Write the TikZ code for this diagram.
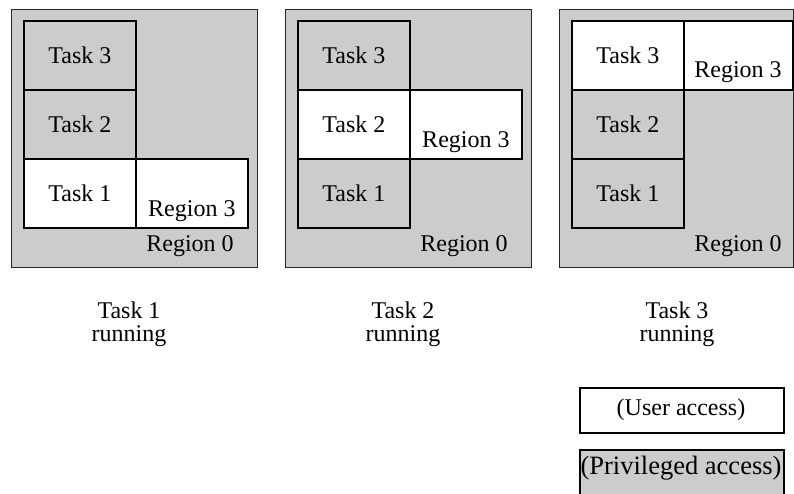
\documentclass[tikz,border=0pt]{standalone}
\usepackage{fontspec}
\setmainfont{Liberation Serif}
\definecolor{privgray}{HTML}{CCCCCC}
\begin{document}
\begin{tikzpicture}[x=1pt,y=-1pt,
  font=\fontsize{24}{23}\selectfont,
  outerbox/.style={draw=black!85, line width=1.2pt, fill=privgray, inner sep=0pt, anchor=north west, minimum height=258pt},
  taskbox/.style={draw=black, line width=1.8pt, inner sep=0pt, anchor=north west, minimum width=112pt, minimum height=69pt},
  priv/.style={fill=privgray},
  user/.style={fill=white},
  lbl/.style={inner sep=0pt},
  legbox/.style={draw=black, line width=1.8pt, inner sep=0pt, anchor=north west, minimum width=204pt}]
\useasboundingbox (0,0) rectangle (794,493);

% Panel 1: Task 1 running
\node[outerbox, minimum width=246pt] (o1) at (11,9) {};
\node[taskbox, priv] (p1t3) at (23,20) {Task 3};
\node[taskbox, priv] (p1t2) at (23,89) {Task 2};
\node[taskbox, user] (p1t1) at (23,158) {Task 1};
\node[taskbox, user] (p1r3) at (135,158) {};
\node[lbl] (p1r3t) at ([yshift=-17.5pt]p1r3.center) {Region 3};
\node[lbl] (p1r0) at (190,246) {Region 0};
\node[align=center, lbl] (c1) at (129,324) {Task 1\\running};

% Panel 2: Task 2 running
\node[outerbox, minimum width=246pt] (o2) at (285,9) {};
\node[taskbox, priv] (p2t3) at (297,20) {Task 3};
\node[taskbox, user] (p2t2) at (297,89) {Task 2};
\node[taskbox, priv] (p2t1) at (297,158) {Task 1};
\node[taskbox, user] (p2r3) at (409,89) {};
\node[lbl] (p2r3t) at ([yshift=-17.5pt]p2r3.center) {Region 3};
\node[lbl] (p2r0) at (464,246) {Region 0};
\node[align=center, lbl] (c2) at (403,324) {Task 2\\running};

% Panel 3: Task 3 running
\node[outerbox, minimum width=234pt] (o3) at (559,9) {};
\node[taskbox, user] (p3t3) at (571,20) {Task 3};
\node[taskbox, priv] (p3t2) at (571,89) {Task 2};
\node[taskbox, priv] (p3t1) at (571,158) {Task 1};
\node[taskbox, user, minimum width=109pt] (p3r3) at (683,20) {};
\node[lbl] (p3r3t) at (738,72) {Region 3};
\node[lbl] (p3r0) at (738,246) {Region 0};
\node[align=center, lbl] (c3) at (677,324) {Task 3\\running};

% Legend
\node[legbox, user, minimum height=45pt] (ua) at (579,387) {};
\node[lbl] (uat) at (681,410) {(User access)};
\node[legbox, priv, minimum height=52pt] (pa) at (579,449) {};
\node[lbl, font=\fontsize{26.5}{26}\selectfont] (pat) at (681,468) {(Privileged access)};
\end{tikzpicture}
\end{document}
